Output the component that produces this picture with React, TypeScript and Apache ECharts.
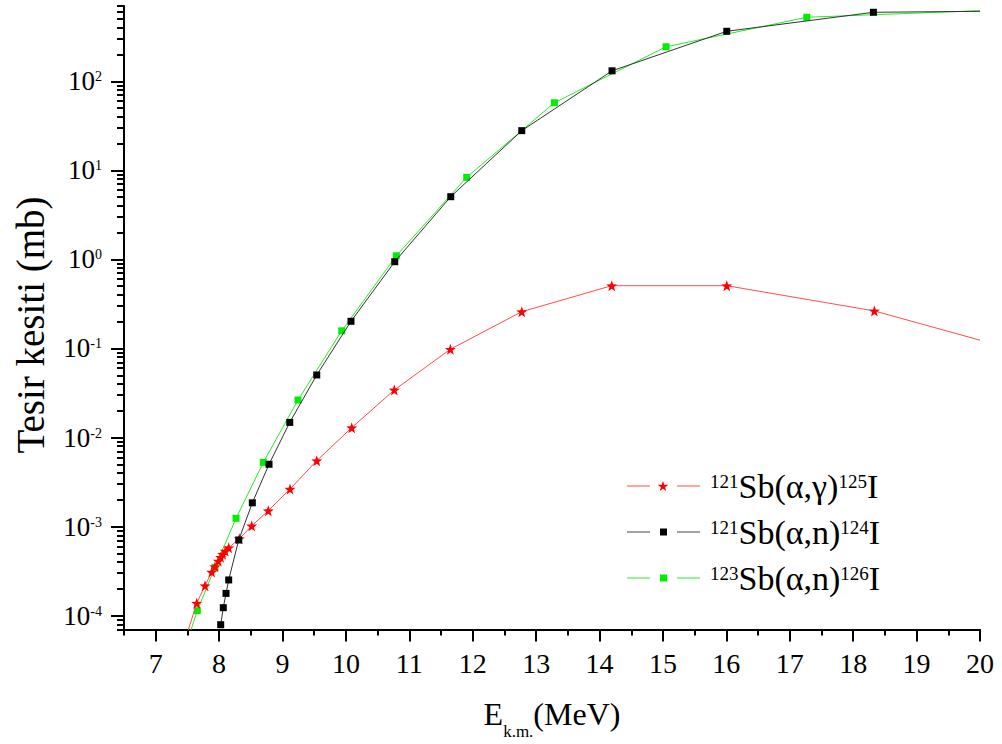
import React, { useEffect, useRef } from 'react';
import * as echarts from 'echarts';

const FONT = 'Liberation Serif, Times New Roman, Times, serif';

// 121Sb(α,γ)125I
const agX = [7.478, 7.647, 7.778, 7.883, 7.935, 7.987, 8.025, 8.057, 8.098, 8.151, 8.319, 8.514, 8.776, 9.118, 9.54, 10.091, 10.763, 11.647, 12.773, 14.192, 16.006, 18.334, 20.0];
const agY = [5.77e-5, 1.38e-4, 2.17e-4, 3.09e-4, 3.55e-4, 4.11e-4, 4.52e-4, 4.89e-4, 5.32e-4, 5.8e-4, 7.31e-4, 1.02e-3, 1.51e-3, 2.64e-3, 5.5e-3, 0.0129, 0.0342, 0.098, 0.259, 0.507, 0.507, 0.264, 0.124];
const agHidden = [0, 22];

// 121Sb(α,n)124I
const anX = [8.025, 8.066, 8.109, 8.151, 8.309, 8.524, 8.787, 9.114, 9.54, 10.08, 10.77, 11.653, 12.773, 14.197, 16.006, 18.319, 20.0];
const anY = [7.92e-5, 1.23e-4, 1.78e-4, 2.52e-4, 7.08e-4, 1.85e-3, 5.01e-3, 0.0148, 0.0504, 0.202, 0.942, 5.06, 27.9, 131, 364, 595, 610];
const anHidden = [16];

// 123Sb(α,n)126I
const bnX = [7.478, 7.656, 7.935, 8.267, 8.697, 9.244, 9.934, 10.795, 11.905, 13.287, 15.049, 17.268, 20.0];
const bnY = [4.69e-5, 1.14e-4, 3.49e-4, 1.24e-3, 5.27e-3, 0.0264, 0.158, 1.1, 8.35, 57.4, 244, 523, 620];
const bnHidden = [0, 12];

// axis ticks / labels
const xMajor = [7, 8, 9, 10, 11, 12, 13, 14, 15, 16, 17, 18, 19, 20];
const xMinor = [6.5, 7.5, 8.5, 9.5, 10.5, 11.5, 12.5, 13.5, 14.5, 15.5, 16.5, 17.5, 18.5, 19.5];
const yMajor = [1e-4, 1e-3, 1e-2, 1e-1, 1, 10, 100];
const yDecades = [1e-5, 1e-4, 1e-3, 1e-2, 1e-1, 1, 10, 100];
const yMinorMult = [2, 3, 4, 5, 6, 7, 8, 9];
const yMinor = yDecades
  .flatMap((d) => yMinorMult.map((m) => parseFloat((m * d).toPrecision(6))))
  .filter((v) => v >= 7e-5 && v <= 700);

const legendRows = [
  { pre: '121', body: 'Sb(α,γ)', post: '125', line: '#ff4d4d', sym: '#ff0000', star: true },
  { pre: '121', body: 'Sb(α,n)', post: '124', line: '#444444', sym: '#000000', star: false },
  { pre: '123', body: 'Sb(α,n)', post: '126', line: '#22ee22', sym: '#00ee00', star: false },
];

const STAR_PTS: number[][] = [
  [0, -10], [2.35, -3.24], [9.51, -3.09], [3.8, 1.24], [5.88, 8.09],
  [0, 4], [-5.88, 8.09], [-3.8, 1.24], [-9.51, -3.09], [-2.35, -3.24],
];
const STAR_PATH = 'path://' + STAR_PTS.map((p, i) => (i ? 'L' : 'M') + p[0] + ',' + p[1]).join(' ') + ' Z';

function toData(xs: number[], ys: number[], hidden: number[]) {
  return xs.map((x, i) => (hidden.includes(i) ? { value: [x, ys[i]], symbol: 'none' } : [x, ys[i]]));
}

const tok = (size: number, extra: any = {}) => ({
  font: `${size}px ${FONT}`,
  fontSize: size,
  fontFamily: FONT,
  fill: '#000',
  color: '#000',
  ...extra,
});

function buildOption() {
  const axisLine = { color: '#000', width: 2 };
  const legendGraphics: any[] = [];
  const rowY = [486, 532, 578];
  legendRows.forEach((r, i) => {
    const y = rowY[i];
    legendGraphics.push({ type: 'line', shape: { x1: 627, y1: y, x2: 650, y2: y }, style: { stroke: r.line, lineWidth: 1 } });
    legendGraphics.push({ type: 'line', shape: { x1: 677, y1: y, x2: 700, y2: y }, style: { stroke: r.line, lineWidth: 1 } });
    if (r.star) {
      legendGraphics.push({
        type: 'polygon',
        shape: { points: STAR_PTS.map((p) => [663 + p[0] * 0.55, y + 0.5 + p[1] * 0.55]) },
        style: { fill: r.sym },
      });
    } else {
      legendGraphics.push({ type: 'rect', shape: { x: 660, y: y - 3.5, width: 7, height: 7 }, style: { fill: r.sym } });
    }
    legendGraphics.push({
      type: 'text',
      x: 710,
      y: y,
      style: {
        legacy: false,
        text: `{s|${r.pre}}{m|${r.body}}{s|${r.post}}{m|I}`,
        align: 'left',
        verticalAlign: 'middle',
        ...tok(34),
        rich: {
          m: tok(34),
          s: tok(19, { padding: [0, 0, 10, 0] }),
        },
      },
    });
  });

  return {
    animation: false,
    backgroundColor: '#ffffff',
    textStyle: { fontFamily: FONT },
    grid: { left: 124, right: 22, top: 6, bottom: 114.5, containLabel: false },
    xAxis: [
      {
        type: 'value',
        min: 6.5,
        max: 20,
        position: 'bottom',
        axisLine: { show: true, onZero: false, lineStyle: axisLine },
        axisTick: { show: true, inside: false, length: 12, lineStyle: axisLine, customValues: xMajor },
        axisLabel: { show: true, customValues: xMajor, margin: 20, fontFamily: FONT, fontSize: 28, color: '#000' },
        splitLine: { show: false },
      },
      {
        type: 'value',
        min: 6.5,
        max: 20,
        position: 'bottom',
        axisLine: { show: false, onZero: false },
        axisTick: { show: true, inside: false, length: 6, lineStyle: axisLine, customValues: xMinor },
        axisLabel: { show: false },
        splitLine: { show: false },
      },
    ],
    yAxis: [
      {
        type: 'log',
        logBase: 10,
        min: 7e-5,
        max: 700,
        position: 'left',
        axisLine: { show: true, onZero: false, lineStyle: axisLine },
        axisTick: { show: true, inside: false, length: 13, lineStyle: axisLine, customValues: yMajor },
        axisLabel: {
          show: true,
          customValues: yMajor,
          margin: 22,
          fontFamily: FONT,
          fontSize: 27,
          color: '#000',
          formatter: (v: number) => `{b|10}{s|${Math.round(Math.log10(v))}}`,
          rich: {
            b: { fontSize: 27, fontFamily: FONT, color: '#000' },
            s: { fontSize: 14, fontFamily: FONT, color: '#000', padding: [0, 0, 9, 0] },
          },
        },
        splitLine: { show: false },
      },
      {
        type: 'log',
        logBase: 10,
        min: 7e-5,
        max: 700,
        position: 'left',
        axisLine: { show: false, onZero: false },
        axisTick: { show: true, inside: false, length: 7, lineStyle: axisLine, customValues: yMinor },
        axisLabel: { show: false },
        splitLine: { show: false },
      },
    ],
    series: [
      {
        type: 'line',
        name: '123Sb(α,n)126I',
        xAxisIndex: 0,
        yAxisIndex: 0,
        data: toData(bnX, bnY, bnHidden),
        symbol: 'rect',
        symbolSize: 7,
        itemStyle: { color: '#00ee00', borderWidth: 0 },
        lineStyle: { color: '#22ee22', width: 1 },
        clip: true,
        z: 2,
      },
      {
        type: 'line',
        name: '121Sb(α,γ)125I',
        xAxisIndex: 0,
        yAxisIndex: 0,
        data: toData(agX, agY, agHidden),
        symbol: STAR_PATH,
        symbolSize: 11,
        itemStyle: { color: '#ff0000', borderWidth: 0 },
        lineStyle: { color: '#ff4d4d', width: 1 },
        clip: true,
        z: 3,
      },
      {
        type: 'line',
        name: '121Sb(α,n)124I',
        xAxisIndex: 0,
        yAxisIndex: 0,
        data: toData(anX, anY, anHidden),
        symbol: 'rect',
        symbolSize: 7,
        itemStyle: { color: '#000000', borderWidth: 0 },
        lineStyle: { color: '#333333', width: 1 },
        clip: true,
        z: 4,
      },
    ],
    graphic: [
      {
        type: 'text',
        x: 30,
        y: 325,
        rotation: Math.PI / 2,
        style: {
          legacy: false,
          text: 'Tesir kesiti (mb)',
          ...tok(39),
          align: 'center',
          verticalAlign: 'middle',
        },
      },
      {
        type: 'text',
        x: 552,
        y: 714,
        style: {
          legacy: false,
          text: '{m|E}{k|k.m.}{m|(MeV)}',
          align: 'center',
          verticalAlign: 'middle',
          ...tok(32),
          rich: {
            m: tok(32),
            k: tok(17, { padding: [34, 0, 0, 0] }),
          },
        },
      },
      ...legendGraphics,
    ],
  };
}

export default function App() {
  const ref = useRef<HTMLDivElement>(null);
  useEffect(() => {
    const chart = echarts.init(ref.current!, null, { renderer: 'svg' });
    chart.setOption(buildOption() as any);
    return () => chart.dispose();
  }, []);
  return <div ref={ref} style={{ position: 'fixed', left: 0, top: 0, width: 1002, height: 744, background: '#fff' }} />;
}
